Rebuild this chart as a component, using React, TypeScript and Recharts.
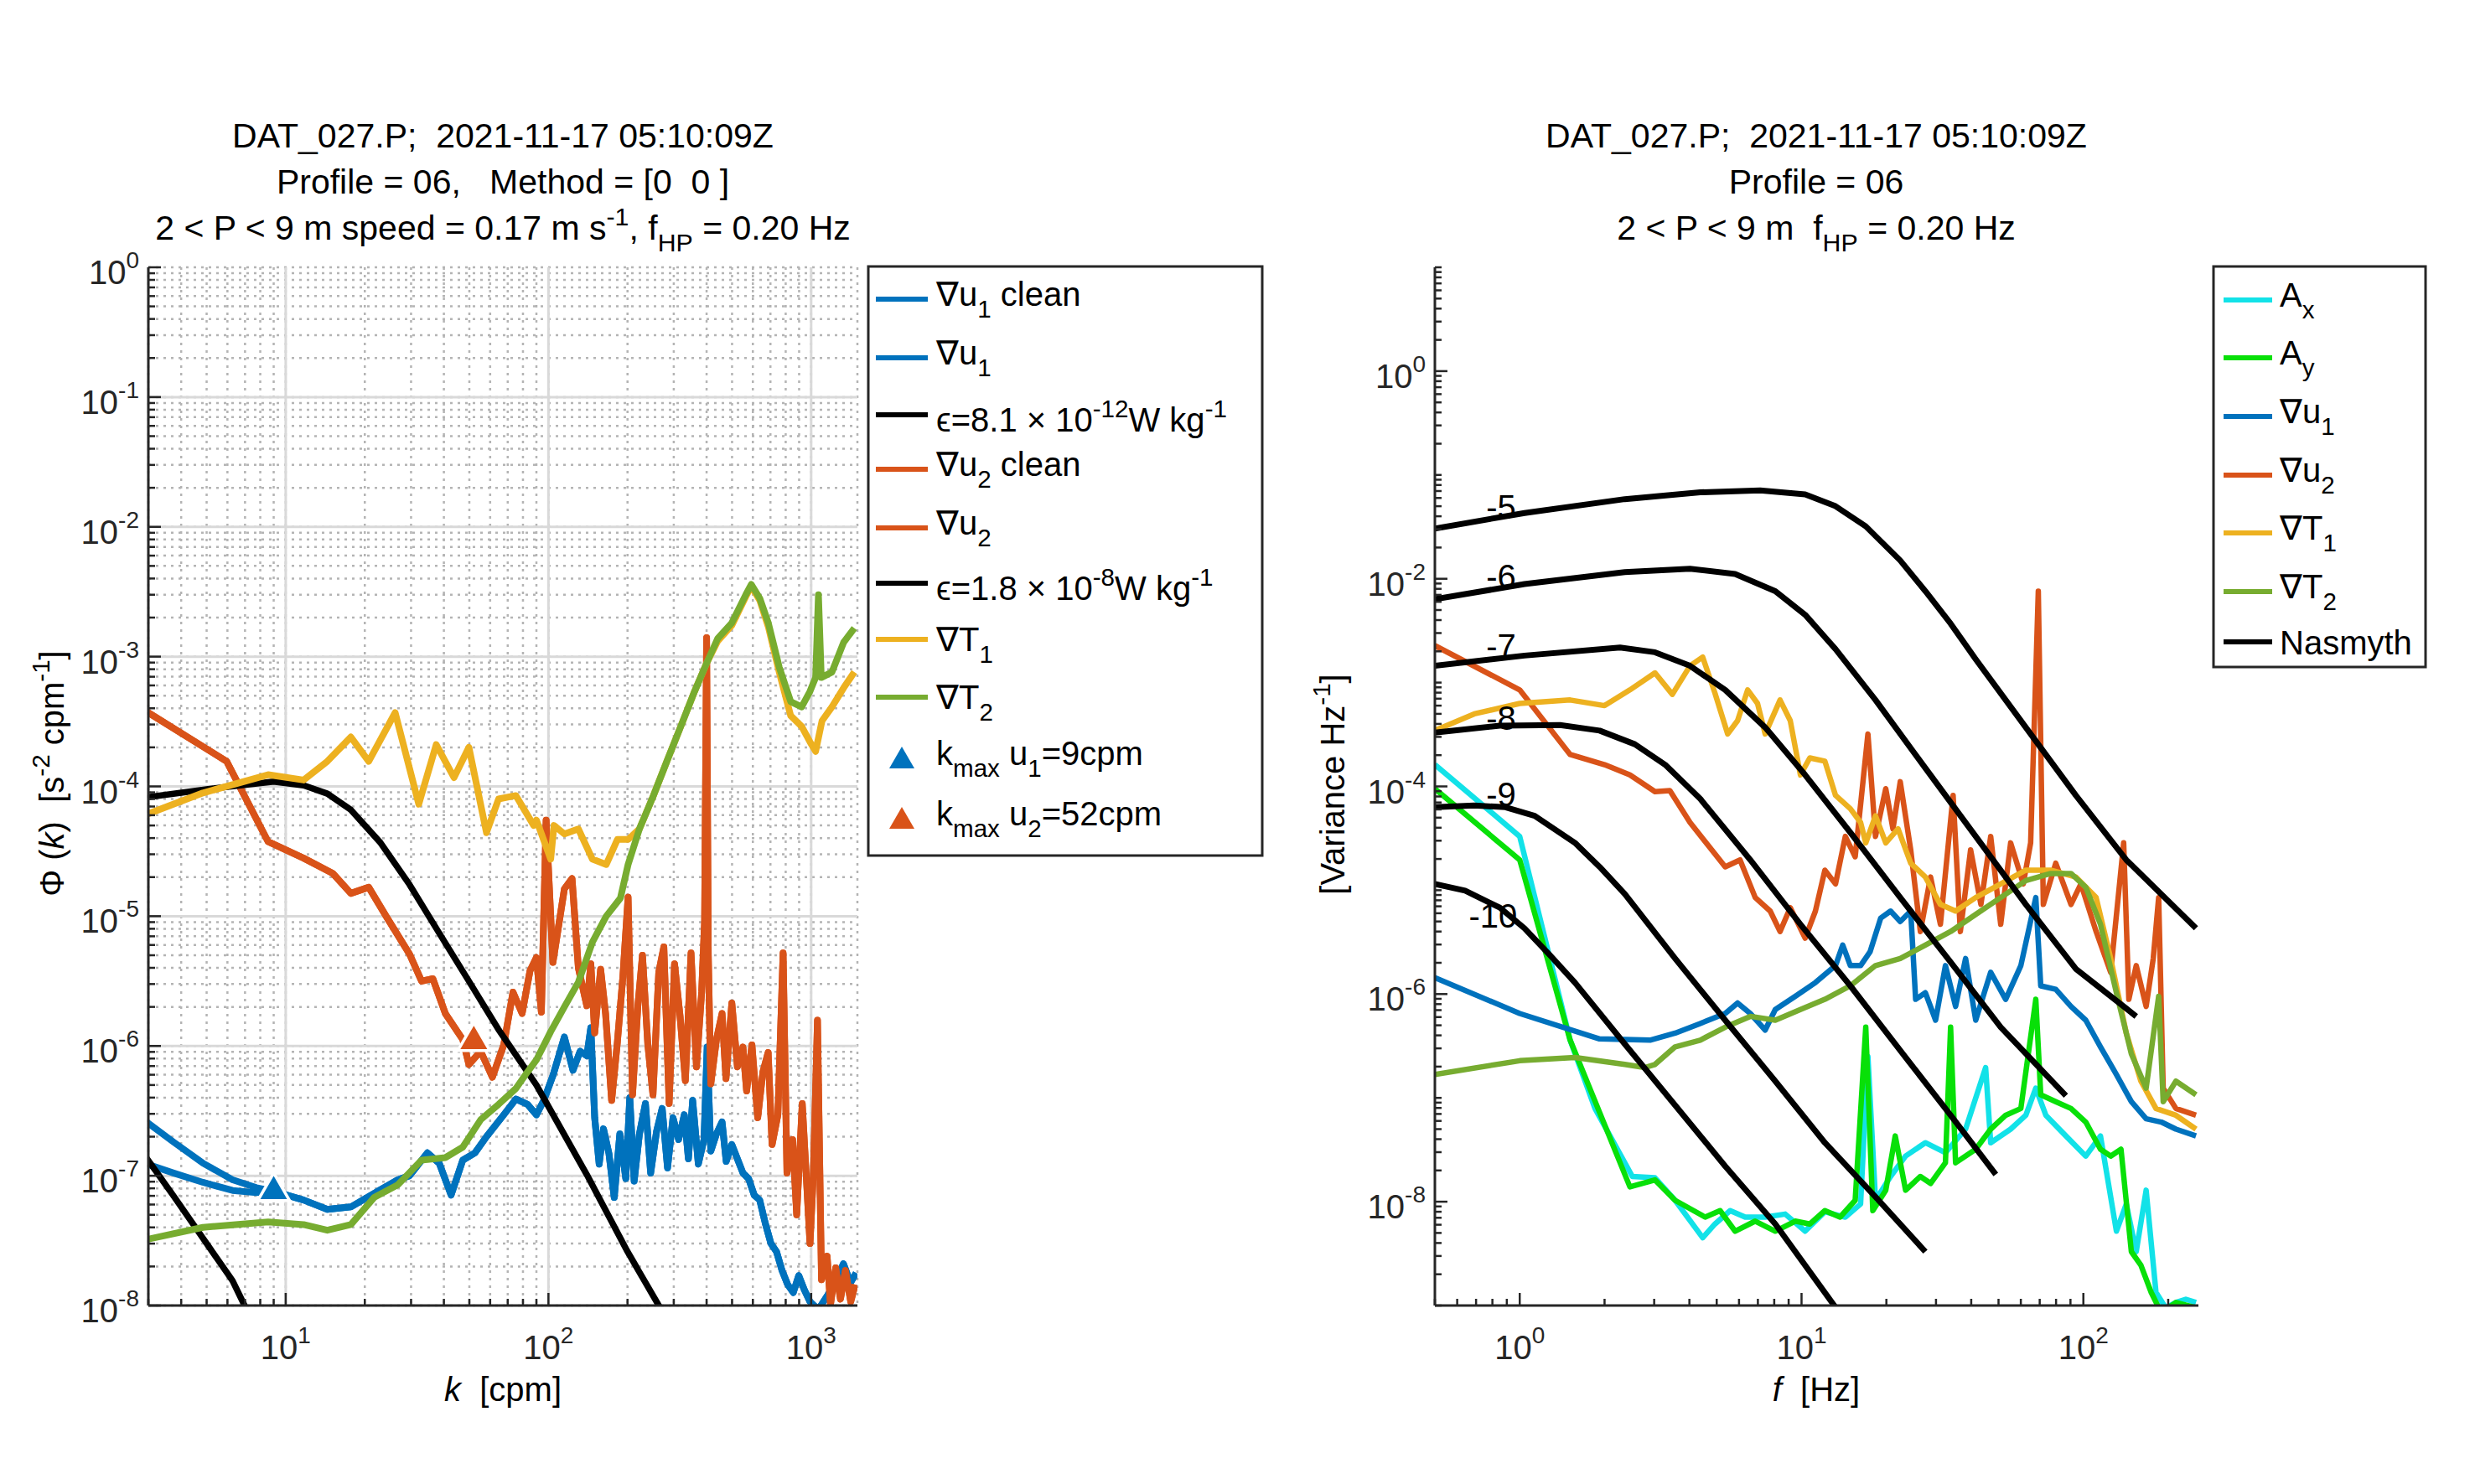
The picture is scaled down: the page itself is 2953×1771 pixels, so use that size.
import React from 'react';
import {
  ComposedChart,
  LineChart,
  Line,
  Scatter,
  XAxis,
  YAxis,
  CartesianGrid,
  ReferenceLine,
  ReferenceDot,
} from 'recharts';

const FONT = '"Liberation Sans", Arial, Helvetica, sans-serif';
const INK = '#262626';
const BLUE = '#0072BD';
const ORANGE = '#D95319';
const YELLOW = '#EDB120';
const GREEN = '#77AC30';
const CYAN = '#12E2E8';
const LIME = '#08E008';

// ---------- left panel: shear / temperature-gradient spectra vs k [cpm] ----------
const u1LowK = [2.9, 3.74, 4.84, 6.28, 7.73];
const u1RawLowPhi = [2.67e-7, 1.82e-7, 1.25e-7, 9.3e-8, 8.1e-8];
const u1CleanLowPhi = [1.25e-7, 1.05e-7, 8.9e-8, 7.7e-8, 7.4e-8];
const u1K = [9, 11.7, 14.4, 17.7, 22.9, 26.7, 29.6, 34.6, 38.4, 42.6, 47.2, 52.5, 58.1, 67.6, 75.2, 83.2, 90, 96, 104, 115, 124, 132, 140, 145, 150, 156, 162, 170, 178, 187, 197, 204, 212, 222, 234, 245, 258, 271, 284, 298, 313, 329, 341, 354, 372, 391, 402, 415, 436, 458, 475, 499, 524, 550, 578, 607, 637, 669, 703, 738, 775, 814, 855, 897, 942, 990, 1065, 1146, 1233, 1327, 1412, 1483];
const u1Phi = [7.6e-8, 6.5e-8, 5.5e-8, 5.75e-8, 7.8e-8, 9.3e-8, 1.0e-7, 1.5e-7, 1.25e-7, 7.1e-8, 1.32e-7, 1.5e-7, 2.0e-7, 2.95e-7, 3.9e-7, 3.55e-7, 2.95e-7, 3.8e-7, 5.9e-7, 1.17e-6, 6.5e-7, 9.1e-7, 8.4e-7, 1.38e-6, 2.8e-7, 1.23e-7, 2.3e-7, 1.48e-7, 6.8e-8, 2.1e-7, 9.5e-8, 4.0e-7, 9.1e-8, 2.1e-7, 3.6e-7, 1.05e-7, 2.2e-7, 3.3e-7, 1.15e-7, 2.8e-7, 1.9e-7, 2.95e-7, 1.35e-7, 3.8e-7, 1.23e-7, 1.9e-7, 9.8e-7, 1.55e-7, 2.1e-7, 2.6e-7, 1.29e-7, 1.74e-7, 1.35e-7, 1.05e-7, 9.5e-8, 7.1e-8, 6.5e-8, 4.3e-8, 3.0e-8, 2.6e-8, 1.86e-8, 1.45e-8, 1.26e-8, 1.7e-8, 1.32e-8, 1.07e-8, 9.3e-9, 1.17e-8, 1.5e-8, 2.1e-8, 1.5e-8, 1.78e-8];

const u2K = [2.9, 5.96, 8.57, 11.7, 15.1, 17.7, 20.7, 24.1, 29.6, 32.9, 36.3, 40.5, 47.2, 49.8, 55.2, 61.2, 67.6, 73.3, 79.4, 85.1, 90, 94, 98, 104, 115, 123, 130, 140, 145, 150, 158, 165, 174, 183, 192, 201, 209, 219, 228, 239, 250, 263, 275, 288, 302, 317, 332, 349, 366, 383, 393, 400, 406, 415, 436, 458, 474, 499, 524, 550, 568, 595, 626, 655, 686, 710, 747, 782, 809, 850, 881, 925, 990, 1020, 1057, 1095, 1150, 1185, 1240, 1293, 1350, 1415, 1470];
const u2Phi = [3.86e-4, 1.56e-4, 3.75e-5, 2.8e-5, 2.14e-5, 1.5e-5, 1.67e-5, 1.0e-5, 5.1e-6, 3.16e-6, 3.3e-6, 1.78e-6, 1.12e-6, 7.2e-7, 9.1e-7, 5.75e-7, 1.02e-6, 2.6e-6, 1.78e-6, 3.8e-6, 4.8e-6, 1.82e-6, 5.5e-5, 4.4e-6, 1.62e-5, 1.95e-5, 4.0e-6, 2.04e-6, 4.3e-6, 1.26e-6, 3.9e-6, 1.78e-6, 3.8e-7, 1.07e-6, 3.4e-6, 1.4e-5, 4.2e-7, 2.04e-6, 5.0e-6, 1.02e-6, 4.2e-7, 3.7e-6, 5.8e-6, 3.6e-7, 4.3e-6, 1.7e-6, 5.4e-7, 5.2e-6, 6.9e-7, 2.6e-6, 9.1e-6, 1.4e-3, 5.0e-6, 5.1e-7, 1.12e-6, 1.78e-6, 5.6e-7, 2.14e-6, 6.9e-7, 9.8e-7, 4.5e-7, 1.02e-6, 2.8e-7, 6.3e-7, 8.9e-7, 1.74e-7, 2.95e-7, 5.2e-6, 1.05e-7, 1.9e-7, 5.0e-8, 3.6e-7, 3.0e-8, 1.05e-7, 1.58e-6, 1.58e-8, 2.4e-8, 1.02e-8, 1.95e-8, 1.12e-8, 1.86e-8, 1.07e-8, 1.45e-8];

const t1K = [2.9, 4.84, 8.57, 11.7, 14.4, 17.7, 20.7, 26.1, 32.1, 37.4, 43.7, 49.8, 58.1, 64.6, 75.2, 87.9, 90, 102, 105, 115, 130, 147, 166, 183, 201, 222, 251, 283, 319, 360, 400, 441, 499, 564, 592, 638, 687, 756, 836, 920, 990, 1040, 1100, 1200, 1330, 1460];
const t1Phi = [6.0e-5, 8.9e-5, 1.23e-4, 1.12e-4, 1.56e-4, 2.4e-4, 1.56e-4, 3.7e-4, 7.3e-5, 2.1e-4, 1.17e-4, 2.0e-4, 4.4e-5, 8.0e-5, 8.5e-5, 5.0e-5, 5.5e-5, 2.75e-5, 5.0e-5, 4.3e-5, 4.7e-5, 2.75e-5, 2.5e-5, 3.9e-5, 3.9e-5, 4.7e-5, 8.5e-5, 1.58e-4, 2.9e-4, 5.4e-4, 8.9e-4, 1.32e-3, 1.74e-3, 2.9e-3, 3.5e-3, 2.7e-3, 1.7e-3, 7.6e-4, 3.5e-4, 2.9e-4, 2.2e-4, 1.86e-4, 3.2e-4, 4.1e-4, 5.75e-4, 7.6e-4];

const t2K = [2.9, 4.84, 8.57, 11.7, 14.4, 17.7, 21.7, 26.7, 32.9, 40.5, 47.2, 55.2, 64.6, 75.2, 83.2, 90, 102, 115, 130, 147, 166, 188, 201, 222, 251, 283, 319, 360, 400, 441, 499, 564, 592, 638, 687, 756, 836, 920, 990, 1040, 1066, 1093, 1200, 1330, 1460];
const t2Phi = [3.2e-8, 4.0e-8, 4.4e-8, 4.2e-8, 3.8e-8, 4.2e-8, 6.8e-8, 8.5e-8, 1.32e-7, 1.38e-7, 1.66e-7, 2.7e-7, 3.55e-7, 4.7e-7, 6.3e-7, 7.8e-7, 1.29e-6, 2.0e-6, 3.1e-6, 6.3e-6, 1.0e-5, 1.38e-5, 2.5e-5, 4.7e-5, 8.5e-5, 1.58e-4, 2.9e-4, 5.4e-4, 8.9e-4, 1.38e-3, 1.82e-3, 3.0e-3, 3.6e-3, 2.8e-3, 1.82e-3, 8.3e-4, 4.5e-4, 4.1e-4, 5.4e-4, 6.9e-4, 3.0e-3, 6.9e-4, 7.6e-4, 1.29e-3, 1.66e-3];

// Nasmyth fits, epsilon = 8.1e-12 and 1.8e-8 W/kg
const epsLoK = [2.9, 3.74, 4.84, 6.28, 6.97, 7.9];
const epsLoPhi = [1.44e-7, 7.0e-8, 3.3e-8, 1.55e-8, 1.0e-8, 6.3e-9];
const epsHiK = [2.9, 5.0, 9.0, 11.7, 14.4, 17.7, 22.9, 29.6, 38.4, 49.8, 64.4, 90, 140, 200, 263, 320];
const epsHiPhi = [8.2e-5, 9.5e-5, 1.09e-4, 1.02e-4, 8.8e-5, 6.6e-5, 3.7e-5, 1.75e-5, 7.4e-6, 3.16e-6, 1.35e-6, 5.0e-7, 1.02e-7, 2.6e-8, 1.0e-8, 5.0e-9];

const kmaxU1 = [{ x: 9, y: 7.8e-8 }];
const kmaxU2 = [{ x: 52, y: 1.12e-6 }];

// ---------- right panel: frequency spectra [Hz] ----------
const axF = [0.5, 1.0, 1.51, 1.85, 2.51, 3.02, 3.56, 4.46, 4.93, 5.58, 6.31, 7.43, 8.75, 10.3, 12.1, 14.3, 16.2, 17.2, 18.3, 20.7, 23.4, 27.5, 32.4, 38.2, 45.0, 46.9, 55.2, 62.5, 67.8, 73.6, 86.7, 102, 115, 131, 142, 154, 167, 181, 196, 213, 231, 251];
const axV = [1.62e-4, 3.3e-5, 3.6e-7, 7.9e-8, 1.75e-8, 1.7e-8, 1.03e-8, 4.5e-9, 6.1e-9, 8.2e-9, 7.1e-9, 7.1e-9, 7.6e-9, 5.2e-9, 8.0e-9, 7.1e-9, 9.5e-9, 2.5e-7, 1.03e-8, 1.75e-8, 2.75e-8, 3.7e-8, 2.96e-8, 5.0e-8, 1.96e-7, 3.7e-8, 5.0e-8, 6.8e-8, 1.24e-7, 6.8e-8, 4.3e-8, 2.75e-8, 4.3e-8, 5.2e-9, 9.5e-9, 3.3e-9, 1.29e-8, 1.34e-9, 9.5e-10, 1.07e-9, 1.15e-9, 1.07e-9];

const ayF = [0.5, 1.0, 1.51, 2.46, 3.02, 3.56, 4.55, 5.14, 5.81, 6.85, 8.07, 9.5, 10.7, 12.1, 13.7, 15.5, 16.9, 17.9, 19.9, 21.5, 23.4, 26.4, 28.7, 32.4, 33.8, 35.2, 41.5, 46.9, 53.0, 60.0, 67.8, 70.6, 79.8, 90.4, 102, 115, 125, 136, 148, 160, 174, 189, 213, 251];
const ayV = [9.5e-5, 1.96e-5, 3.6e-7, 1.39e-8, 1.62e-8, 1.03e-8, 7.1e-9, 8.2e-9, 5.2e-9, 6.5e-9, 5.2e-9, 6.5e-9, 6.1e-9, 8.2e-9, 7.1e-9, 1.03e-8, 4.8e-7, 8.2e-9, 1.29e-8, 4.3e-8, 1.29e-8, 1.75e-8, 1.5e-8, 2.37e-8, 4.8e-7, 2.37e-8, 3.2e-8, 5.0e-8, 6.8e-8, 7.9e-8, 8.9e-7, 1.07e-7, 9.2e-8, 7.9e-8, 5.85e-8, 3.2e-8, 2.75e-8, 3.2e-8, 3.3e-9, 2.45e-9, 1.34e-9, 8.5e-10, 1.07e-9, 9.5e-10];

const gu1F = [0.5, 1.0, 1.92, 2.9, 3.56, 4.37, 5.36, 5.93, 6.58, 7.43, 8.07, 9.5, 11.2, 13.2, 14.0, 14.9, 16.2, 17.5, 19.1, 20.7, 22.4, 24.4, 25.4, 27.5, 29.9, 32.4, 35.2, 38.2, 41.5, 46.9, 53.0, 60.0, 67.8, 70.6, 79.8, 90.4, 102, 115, 131, 148, 167, 189, 213, 251];
const gu1V = [1.44e-6, 6.5e-7, 3.7e-7, 3.6e-7, 4.2e-7, 5.2e-7, 6.5e-7, 8.2e-7, 6.5e-7, 4.5e-7, 7.1e-7, 9.5e-7, 1.29e-6, 1.88e-6, 2.96e-6, 1.88e-6, 1.88e-6, 2.55e-6, 5.4e-6, 6.3e-6, 5.0e-6, 6.3e-6, 8.9e-7, 1.03e-6, 5.6e-7, 1.88e-6, 7.6e-7, 2.2e-6, 5.6e-7, 1.62e-6, 8.9e-7, 1.88e-6, 8.5e-6, 1.2e-6, 1.11e-6, 7.6e-7, 5.6e-7, 3.1e-7, 1.68e-7, 9.2e-8, 6.3e-8, 5.85e-8, 5.0e-8, 4.3e-8];

const gu2F = [0.5, 1.0, 1.51, 2.0, 2.46, 3.02, 3.41, 4.02, 5.36, 6.05, 6.85, 7.74, 8.39, 9.12, 10.3, 11.2, 12.1, 13.2, 14.3, 15.5, 17.2, 18.3, 19.9, 21.1, 22.4, 24.4, 26.4, 28.7, 31.1, 34.5, 36.6, 39.8, 43.3, 46.9, 50.9, 55.2, 61.2, 65.0, 69.2, 72.1, 79.8, 90.4, 98, 111, 125, 139, 145, 154, 167, 177, 185, 192, 213, 251];
const gu2V = [2.27e-3, 8.5e-4, 2.03e-4, 1.62e-4, 1.29e-4, 8.9e-5, 9.1e-5, 4.5e-5, 1.68e-5, 1.96e-5, 8.5e-6, 6.3e-6, 4.0e-6, 6.8e-6, 3.45e-6, 6.3e-6, 1.56e-5, 1.15e-5, 3.3e-5, 2.1e-5, 3.2e-4, 3.3e-5, 9.5e-5, 3.9e-5, 1.11e-4, 2.45e-5, 4.0e-6, 1.34e-5, 4.7e-6, 8.2e-5, 4.0e-6, 2.45e-5, 7.3e-6, 3.3e-5, 4.7e-6, 2.86e-5, 1.15e-5, 2.86e-5, 7.6e-3, 7.3e-6, 1.82e-5, 7.3e-6, 1.15e-5, 4.0e-6, 1.62e-6, 2.86e-5, 8.9e-7, 1.88e-6, 7.6e-7, 2.2e-6, 8.5e-6, 1.24e-7, 7.9e-8, 6.8e-8];

const gt1F = [0.5, 0.69, 1.0, 1.51, 2.0, 2.46, 3.02, 3.48, 4.02, 4.46, 4.93, 5.47, 5.93, 6.44, 6.98, 7.43, 8.39, 9.12, 9.91, 10.7, 12.1, 13.2, 14.9, 16.2, 16.9, 18.3, 19.9, 22.0, 24.4, 27.5, 31.1, 35.2, 41.5, 50.9, 62.5, 76.6, 94.0, 111, 125, 142, 160, 181, 213, 251];
const gt1V = [3.45e-4, 5.0e-4, 6.3e-4, 6.8e-4, 6.0e-4, 8.5e-4, 1.24e-3, 7.7e-4, 1.45e-3, 1.76e-3, 7.9e-4, 3.2e-4, 4.3e-4, 8.5e-4, 6.3e-4, 3.2e-4, 6.8e-4, 4.3e-4, 1.29e-4, 1.88e-4, 1.75e-4, 8.2e-5, 6.1e-5, 4.5e-5, 2.86e-5, 5.2e-5, 2.86e-5, 3.9e-5, 1.82e-5, 1.34e-5, 7.3e-6, 6.3e-6, 8.5e-6, 1.15e-5, 1.56e-5, 1.56e-5, 1.34e-5, 8.5e-6, 2.2e-6, 4.2e-7, 1.45e-7, 7.9e-8, 6.8e-8, 5.0e-8];

const gt2F = [0.5, 1.0, 1.57, 2.36, 2.78, 3.02, 3.56, 4.37, 5.36, 6.58, 8.07, 9.91, 12.1, 14.9, 18.3, 22.4, 27.5, 33.8, 41.5, 50.9, 62.5, 76.6, 90.4, 102, 115, 131, 148, 167, 185, 192, 213, 251];
const gt2V = [1.68e-7, 2.28e-7, 2.45e-7, 2.1e-7, 1.96e-7, 2.1e-7, 3.1e-7, 3.6e-7, 4.8e-7, 6.1e-7, 5.6e-7, 7.1e-7, 8.9e-7, 1.2e-6, 1.88e-6, 2.2e-6, 2.96e-6, 4.0e-6, 5.85e-6, 8.5e-6, 1.24e-5, 1.45e-5, 1.45e-5, 1.07e-5, 4.7e-6, 1.03e-6, 2.65e-7, 1.24e-7, 9.5e-7, 9.2e-8, 1.45e-7, 1.07e-7];

// Nasmyth reference curves, log10(epsilon) = -5 ... -10
const nas5F = [0.5, 1.04, 2.36, 4.37, 7.13, 10.3, 13.2, 16.9, 22.4, 27.5, 33.8, 41.5, 62.5, 94.0, 142, 251];
const nas5V = [3.05e-2, 4.3e-2, 5.85e-2, 6.8e-2, 7.1e-2, 6.5e-2, 5.0e-2, 3.2e-2, 1.5e-2, 7.6e-3, 3.7e-3, 1.68e-3, 3.7e-4, 8.2e-5, 1.96e-5, 4.3e-6];
const nas6F = [0.5, 1.04, 2.36, 4.02, 5.81, 8.07, 10.3, 13.2, 18.3, 27.5, 41.5, 62.5, 94.0, 154];
const nas6V = [6.35e-3, 8.9e-3, 1.16e-2, 1.25e-2, 1.11e-2, 7.6e-3, 4.5e-3, 2.1e-3, 6.8e-4, 1.5e-4, 3.3e-5, 7.3e-6, 1.75e-6, 6.1e-7];
const nas7F = [0.5, 1.04, 2.27, 3.02, 4.02, 5.36, 7.43, 10.3, 14.9, 22.4, 33.8, 50.9, 86.7];
const nas7V = [1.45e-3, 1.82e-3, 2.18e-3, 1.96e-3, 1.45e-3, 8.5e-4, 3.7e-4, 1.29e-4, 3.6e-5, 8.5e-6, 2.03e-6, 4.8e-7, 1.05e-7];
const nas8F = [0.5, 0.85, 1.39, 1.92, 2.56, 3.28, 4.37, 6.58, 9.91, 14.9, 22.4, 33.8, 48.9];
const nas8V = [3.3e-4, 3.84e-4, 3.9e-4, 3.45e-4, 2.55e-4, 1.62e-4, 7.6e-5, 1.96e-5, 4.7e-6, 1.2e-6, 2.86e-7, 6.8e-8, 1.83e-8];
const nas9F = [0.5, 0.69, 0.89, 1.13, 1.57, 1.92, 2.36, 3.56, 5.36, 8.07, 12.1, 18.3, 27.5];
const nas9V = [6.3e-5, 6.55e-5, 6.3e-5, 5.2e-5, 2.86e-5, 1.68e-5, 9.2e-6, 2.2e-6, 5.6e-7, 1.45e-7, 3.7e-8, 1.11e-8, 3.3e-9];
const nas10F = [0.5, 0.64, 0.85, 1.04, 1.28, 1.57, 2.36, 3.56, 5.36, 8.07, 13.2];
const nas10V = [1.15e-5, 9.9e-6, 6.8e-6, 4.3e-6, 2.37e-6, 1.29e-6, 3.3e-7, 8.5e-8, 2.2e-8, 6.1e-9, 9.6e-10];

const nasLabels = ['-5', '-6', '-7', '-8', '-9', '-10'];
const nasLabelF = [0.766, 0.766, 0.766, 0.766, 0.766, 0.664];
const nasLabelV = [4.8e-2, 1.03e-2, 2.2e-3, 4.46e-4, 8.2e-5, 5.6e-6];

// ---------- ticks ----------
const leftXLabels = [10, 100, 1000];
const leftYLabels = [1e-8, 1e-7, 1e-6, 1e-5, 1e-4, 1e-3, 1e-2, 1e-1, 1];
const rightXLabels = [1, 10, 100];
const rightYLabels = [1e-8, 1e-6, 1e-4, 1e-2, 1];

const logTicks = (lo: number, hi: number) => {
  const out: number[] = [];
  for (let e = Math.floor(Math.log10(lo)); e <= Math.ceil(Math.log10(hi)); e++) {
    for (let m = 1; m <= 9; m++) {
      const v = +(m * Math.pow(10, e)).toPrecision(3);
      if (v >= lo * 0.999 && v <= hi * 1.001) out.push(v);
    }
  }
  return out;
};

const pts = (xs: number[], ys: number[]) => xs.map((x, i) => ({ x, y: ys[i] }));
const hasVal = (arr: number[], v: number) => arr.some((m) => Math.abs(m / v - 1) < 1e-6);

const Pow10 = ({ x, y, v, anchor }: any) => (
  <text x={x} y={y} textAnchor={anchor} fontFamily={FONT} fontSize={40} fill={INK}>
    10
    <tspan dy={-19} fontSize={28}>
      {Math.round(Math.log10(v))}
    </tspan>
  </text>
);

const axisTick = (side: string, labels: number[]) => (p: any) => {
  const v = p.payload.value;
  const major = hasVal(labels, v);
  const len = major ? 15 : 8;
  const { x, y } = p;
  const seg: Record<string, number[]> = {
    bottom: [x, y, x, y - len],
    top: [x, y, x, y + len],
    left: [x, y, x + len, y],
    right: [x, y, x - len, y],
  };
  const s = seg[side];
  return (
    <g>
      <line x1={s[0]} y1={s[1]} x2={s[2]} y2={s[3]} stroke={INK} strokeWidth={2.5} />
      {major && side === 'bottom' && <Pow10 x={x} y={y + 64} v={v} anchor="middle" />}
      {major && side === 'left' && <Pow10 x={x - 11} y={y + 20} v={v} anchor="end" />}
    </g>
  );
};

type Part = { t: string; s?: 'sub' | 'sup'; i?: boolean };
const Rich = ({ x, y, parts, size = 40, anchor = 'start', transform }: any) => {
  let cur = 0;
  return (
    <text
      x={x}
      y={y}
      fontSize={size}
      textAnchor={anchor}
      fontFamily={FONT}
      fill="#000"
      transform={transform}
      style={{ whiteSpace: 'pre' }}
    >
      {(parts as Part[]).map((p, k) => {
        const target = p.s === 'sup' ? -0.42 * size : p.s === 'sub' ? 0.34 * size : 0;
        const dy = target - cur;
        cur = target;
        return (
          <tspan key={k} dy={dy} fontSize={p.s ? size * 0.74 : size} fontStyle={p.i ? 'italic' : 'normal'}>
            {p.t}
          </tspan>
        );
      })}
    </text>
  );
};

const axisLine = { stroke: INK, strokeWidth: 3 };
const LW_L = 8;
const LW_R = 6.5;

const triangle = (color: string) => (p: any) => (
  <path
    d={`M${p.cx},${p.cy - 20} L${p.cx + 19},${p.cy + 13} L${p.cx - 19},${p.cy + 13} Z`}
    fill={color}
    stroke="#fff"
    strokeWidth={3.5}
  />
);

const frameAxes = (xDomain: number[], yDomain: number[], xTicks: number[], yTicks: number[], xLab: number[], yLab: number[], yWidth: number) => [
  <XAxis
    key="xb"
    dataKey="x"
    type="number"
    scale="log"
    domain={xDomain}
    allowDataOverflow
    ticks={xTicks}
    interval={0}
    height={80}
    tickSize={0}
    tickMargin={0}
    tickLine={false}
    axisLine={axisLine}
    tick={axisTick('bottom', xLab)}
  />,
  <XAxis
    key="xt"
    xAxisId="top"
    orientation="top"
    type="number"
    scale="log"
    domain={xDomain}
    allowDataOverflow
    ticks={xTicks}
    interval={0}
    height={0}
    tickSize={0}
    tickMargin={0}
    tickLine={false}
    axisLine={axisLine}
    tick={axisTick('top', xLab)}
  />,
  <YAxis
    key="yl"
    dataKey="y"
    type="number"
    scale="log"
    domain={yDomain}
    allowDataOverflow
    ticks={yTicks}
    interval={0}
    width={yWidth}
    tickSize={0}
    tickMargin={0}
    tickLine={false}
    axisLine={axisLine}
    tick={axisTick('left', yLab)}
  />,
  <YAxis
    key="yr"
    yAxisId="right"
    orientation="right"
    type="number"
    scale="log"
    domain={yDomain}
    allowDataOverflow
    ticks={yTicks}
    interval={0}
    width={0}
    tickSize={0}
    tickMargin={0}
    tickLine={false}
    axisLine={axisLine}
    tick={axisTick('right', yLab)}
  />,
];

const series = (data: any[], color: string, width: number, key: string) => (
  <Line
    key={key}
    data={data}
    dataKey="y"
    type="linear"
    stroke={color}
    strokeWidth={width}
    dot={false}
    activeDot={false}
    isAnimationActive={false}
    strokeLinejoin="round"
  />
);

function LeftPanel() {
  const xTicks = logTicks(3, 1500);
  const yTicks = logTicks(1e-8, 1);
  return (
    <ComposedChart width={1100} height={1771} margin={{ top: 319, right: 77, bottom: 133, left: 0 }}>
      {frameAxes([3, 1500], [1e-8, 1], xTicks, yTicks, leftXLabels, leftYLabels, 177)}
      <CartesianGrid stroke="#b4b4b4" strokeWidth={2.5} strokeDasharray="3 6" />
      {leftXLabels.map((v) => (
        <ReferenceLine key={'gx' + v} x={v} stroke="#d9d9d9" strokeWidth={3} />
      ))}
      {leftYLabels.slice(1, -1).map((v) => (
        <ReferenceLine key={'gy' + v} y={v} stroke="#d9d9d9" strokeWidth={3} />
      ))}
      {series(pts([...u1LowK, ...u1K], [...u1CleanLowPhi, ...u1Phi]), BLUE, LW_L, 'u1c')}
      {series(pts([...u1LowK, ...u1K], [...u1RawLowPhi, ...u1Phi]), BLUE, LW_L, 'u1')}
      {series(pts(epsLoK, epsLoPhi), '#000', 7.5, 'e1')}
      {series(pts(u2K, u2Phi), ORANGE, LW_L, 'u2c')}
      {series(pts(u2K, u2Phi), ORANGE, LW_L, 'u2')}
      {series(pts(epsHiK, epsHiPhi), '#000', 7.5, 'e2')}
      {series(pts(t1K, t1Phi), YELLOW, LW_L, 't1')}
      {series(pts(t2K, t2Phi), GREEN, LW_L, 't2')}
      <Scatter data={kmaxU1} shape={triangle(BLUE)} isAnimationActive={false} />
      <Scatter data={kmaxU2} shape={triangle(ORANGE)} isAnimationActive={false} />
    </ComposedChart>
  );
}

function RightPanel() {
  const xTicks = logTicks(0.5, 256);
  const yTicks = logTicks(1e-9, 10);
  return (
    <LineChart width={1120} height={1771} margin={{ top: 319, right: 37, bottom: 133, left: 0 }}>
      {frameAxes([0.5, 256], [1e-9, 10], xTicks, yTicks, rightXLabels, rightYLabels, 172)}
      {series(pts(axF, axV), CYAN, LW_R, 'ax')}
      {series(pts(ayF, ayV), LIME, LW_R, 'ay')}
      {series(pts(gu1F, gu1V), BLUE, LW_R, 'gu1')}
      {series(pts(gu2F, gu2V), ORANGE, LW_R, 'gu2')}
      {series(pts(gt1F, gt1V), YELLOW, LW_R, 'gt1')}
      {series(pts(gt2F, gt2V), GREEN, LW_R, 'gt2')}
      {nasLabels.map((lab, i) => (
        <ReferenceDot
          key={'nl' + lab}
          x={nasLabelF[i]}
          y={nasLabelV[i]}
          r={1}
          fill="none"
          stroke="none"
          label={{
            content: (p: any) => (
              <text
                x={p.viewBox.x}
                y={p.viewBox.y + 14}
                fontFamily={FONT}
                fontSize={40}
                fill="#000"
              >
                {lab}
              </text>
            ),
          }}
        />
      ))}
      {series(pts(nas5F, nas5V), '#000', 7, 'n5')}
      {series(pts(nas6F, nas6V), '#000', 7, 'n6')}
      {series(pts(nas7F, nas7V), '#000', 7, 'n7')}
      {series(pts(nas8F, nas8V), '#000', 7, 'n8')}
      {series(pts(nas9F, nas9V), '#000', 7, 'n9')}
      {series(pts(nas10F, nas10V), '#000', 7, 'n10')}
    </LineChart>
  );
}

const leftLegend = [
  { c: BLUE, y: 357, d: 8, parts: [{ t: '∇u' }, { t: '1', s: 'sub' }, { t: ' clean' }] },
  { c: BLUE, y: 427, d: 8, parts: [{ t: '∇u' }, { t: '1', s: 'sub' }] },
  { c: '#000', y: 495, d: 20, parts: [{ t: 'ϵ=8.1 × 10' }, { t: '-12', s: 'sup' }, { t: 'W kg' }, { t: '-1', s: 'sup' }] },
  { c: ORANGE, y: 560, d: 8, parts: [{ t: '∇u' }, { t: '2', s: 'sub' }, { t: ' clean' }] },
  { c: ORANGE, y: 630, d: 8, parts: [{ t: '∇u' }, { t: '2', s: 'sub' }] },
  { c: '#000', y: 696, d: 20, parts: [{ t: 'ϵ=1.8 × 10' }, { t: '-8', s: 'sup' }, { t: 'W kg' }, { t: '-1', s: 'sup' }] },
  { c: YELLOW, y: 763, d: 14, parts: [{ t: '∇T' }, { t: '1', s: 'sub' }] },
  { c: GREEN, y: 832, d: 14, parts: [{ t: '∇T' }, { t: '2', s: 'sub' }] },
];
const leftMarkers = [
  { c: BLUE, y: 906, parts: [{ t: 'k' }, { t: 'max', s: 'sub' }, { t: ' u' }, { t: '1', s: 'sub' }, { t: '=9cpm' }] },
  { c: ORANGE, y: 978, parts: [{ t: 'k' }, { t: 'max', s: 'sub' }, { t: ' u' }, { t: '2', s: 'sub' }, { t: '=52cpm' }] },
];
const rightLegend = [
  { c: CYAN, y: 358, d: 8, parts: [{ t: 'A' }, { t: 'x', s: 'sub' }] },
  { c: LIME, y: 427, d: 8, parts: [{ t: 'A' }, { t: 'y', s: 'sub' }] },
  { c: BLUE, y: 497, d: 8, parts: [{ t: '∇u' }, { t: '1', s: 'sub' }] },
  { c: ORANGE, y: 567, d: 8, parts: [{ t: '∇u' }, { t: '2', s: 'sub' }] },
  { c: YELLOW, y: 636, d: 8, parts: [{ t: '∇T' }, { t: '1', s: 'sub' }] },
  { c: GREEN, y: 706, d: 8, parts: [{ t: '∇T' }, { t: '2', s: 'sub' }] },
  { c: '#000', y: 766, d: 15, parts: [{ t: 'Nasmyth' }] },
];

function Overlay() {
  return (
    <svg
      width={2953}
      height={1771}
      style={{ position: 'absolute', left: 0, top: 0, pointerEvents: 'none' }}
    >
      {/* titles */}
      <Rich x={600} y={176} anchor="middle" size={41} parts={[{ t: 'DAT_027.P;  2021-11-17 05:10:09Z' }]} />
      <Rich x={600} y={231} anchor="middle" size={41} parts={[{ t: 'Profile = 06,   Method = [0  0 ]' }]} />
      <Rich
        x={600}
        y={286}
        anchor="middle"
        size={41}
        parts={[{ t: '2 < P < 9 m speed = 0.17 m s' }, { t: '-1', s: 'sup' }, { t: ', f' }, { t: 'HP', s: 'sub' }, { t: ' = 0.20 Hz' }]}
      />
      <Rich x={2167} y={176} anchor="middle" size={41} parts={[{ t: 'DAT_027.P;  2021-11-17 05:10:09Z' }]} />
      <Rich x={2167} y={231} anchor="middle" size={41} parts={[{ t: 'Profile = 06' }]} />
      <Rich
        x={2167}
        y={286}
        anchor="middle"
        size={41}
        parts={[{ t: '2 < P < 9 m  f' }, { t: 'HP', s: 'sub' }, { t: ' = 0.20 Hz' }]}
      />

      {/* axis labels */}
      <Rich x={600} y={1672} anchor="middle" parts={[{ t: 'k', i: true }, { t: '  [cpm]' }]} />
      <Rich x={2167} y={1672} anchor="middle" parts={[{ t: 'f', i: true }, { t: '  [Hz]' }]} />
      <Rich
        x={76}
        y={923}
        anchor="middle"
        transform="rotate(-90 76 923)"
        parts={[{ t: 'Φ (' }, { t: 'k', i: true }, { t: ')  [s' }, { t: '-2', s: 'sup' }, { t: ' cpm' }, { t: '-1', s: 'sup' }, { t: ']' }]}
      />
      <Rich
        x={1604}
        y={936}
        anchor="middle"
        transform="rotate(-90 1604 936)"
        parts={[{ t: '[Variance Hz' }, { t: '-1', s: 'sup' }, { t: ']' }]}
      />

      {/* left legend */}
      <rect x={1036} y={318} width={470} height={703} fill="#fff" stroke={INK} strokeWidth={3} />
      {leftLegend.map((e, i) => (
        <g key={'ll' + i}>
          <line x1={1045} x2={1107} y1={e.y} y2={e.y} stroke={e.c} strokeWidth={6} />
          <Rich x={1117} y={e.y + e.d} parts={e.parts} />
        </g>
      ))}
      {leftMarkers.map((e, i) => (
        <g key={'lm' + i}>
          <path d={`M1076,${e.y - 15} L1091,${e.y + 11} L1061,${e.y + 11} Z`} fill={e.c} />
          <Rich x={1117} y={e.y + 7} parts={e.parts} />
        </g>
      ))}

      {/* right legend */}
      <rect x={2641} y={318} width={253} height={478} fill="#fff" stroke={INK} strokeWidth={3} />
      {rightLegend.map((e, i) => (
        <g key={'rl' + i}>
          <line x1={2653} x2={2711} y1={e.y} y2={e.y} stroke={e.c} strokeWidth={6} />
          <Rich x={2720} y={e.y + e.d} parts={e.parts} />
        </g>
      ))}
    </svg>
  );
}

export default function App() {
  return (
    <div style={{ position: 'absolute', left: 0, top: 0, width: 2953, height: 1771, background: '#fff' }}>
      <div style={{ position: 'absolute', left: 0, top: 0 }}>
        <LeftPanel />
      </div>
      <div style={{ position: 'absolute', left: 1540, top: 0 }}>
        <RightPanel />
      </div>
      <Overlay />
    </div>
  );
}
